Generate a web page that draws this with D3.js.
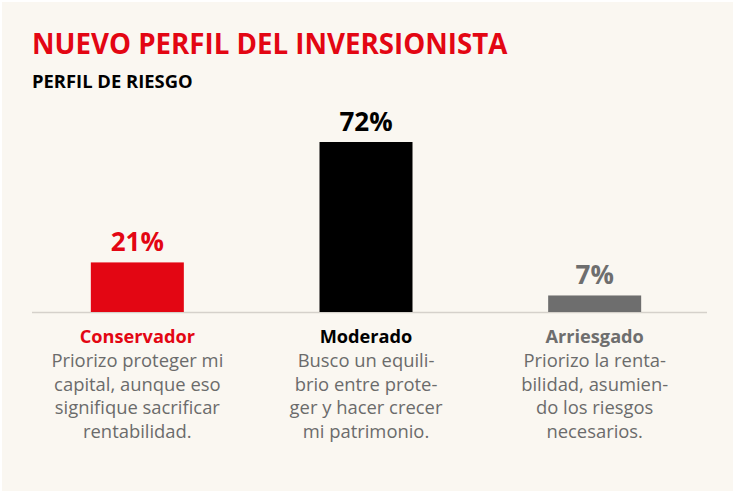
<!DOCTYPE html>
<html>
<head>
<meta charset="utf-8">
<script src="https://cdn.jsdelivr.net/npm/d3@7"></script>
<style>
  html, body { margin: 0; padding: 0; background: #ffffff; }
  svg { display: block; }
</style>
</head>
<body>
<div id="chart"></div>
<script>
// datos del grafico
var categories = ["Conservador", "Moderado", "Arriesgado"];
var values = [21, 72, 7];
var valueLabels = ["21%", "72%", "7%"];
var descriptions = [
  ["Priorizo proteger mi", "capital, aunque eso", "signifique sacrificar", "rentabilidad."],
  ["Busco un equili-", "brio entre prote-", "ger y hacer crecer", "mi patrimonio."],
  ["Priorizo la renta-", "bilidad, asumien-", "do los riesgos", "necesarios."]
];
var colors = ["#e30613", "#000000", "#6e6e6e"];

var width = 736, height = 494;
var font = "'Open Sans', sans-serif";
var baseY = 312;

var svg = d3.select("#chart").append("svg")
  .attr("width", width).attr("height", height);

svg.append("rect")
  .attr("x", 2).attr("y", 2)
  .attr("width", width - 5).attr("height", height - 5)
  .attr("fill", "#faf7f1");

svg.append("text")
  .attr("x", 32).attr("y", 54)
  .attr("font-family", font).attr("font-weight", 700)
  .attr("font-size", 27.7).attr("fill", "#e30613")
  .text("NUEVO PERFIL DEL INVERSIONISTA");

svg.append("text")
  .attr("x", 32).attr("y", 88)
  .attr("font-family", font).attr("font-weight", 700)
  .attr("font-size", 18.4).attr("fill", "#000")
  .text("PERFIL DE RIESGO");

var x = d3.scaleBand().domain(categories).range([23, 709]).padding(0);
var y = d3.scaleLinear().domain([0, 72]).range([baseY, 142]);
var barW = 93;

var g = svg.append("g");

// linea base
g.append("line")
  .attr("x1", 32).attr("x2", 707)
  .attr("y1", baseY + 0.5).attr("y2", baseY + 0.5)
  .attr("stroke", "#d5d1cb").attr("stroke-width", 1.5);

var cols = g.selectAll(".col").data(categories).enter().append("g")
  .attr("class", "col")
  .attr("transform", function(d) { return "translate(" + (x(d) + x.bandwidth() / 2) + ",0)"; });

cols.append("rect")
  .attr("x", -barW / 2)
  .attr("y", function(d, i) { return y(values[i]); })
  .attr("width", barW)
  .attr("height", function(d, i) { return baseY - y(values[i]); })
  .attr("fill", function(d, i) { return colors[i]; });

cols.append("text")
  .attr("y", function(d, i) { return y(values[i]) - 11; })
  .attr("text-anchor", "middle")
  .attr("font-family", font).attr("font-weight", 700)
  .attr("font-size", 26)
  .attr("fill", function(d, i) { return colors[i]; })
  .text(function(d, i) { return valueLabels[i]; });

cols.append("text")
  .attr("y", 342.5)
  .attr("text-anchor", "middle")
  .attr("font-family", font).attr("font-weight", 700)
  .attr("font-size", 18.2)
  .attr("fill", function(d, i) { return colors[i]; })
  .text(function(d) { return d; });

cols.each(function(d, i) {
  d3.select(this).selectAll(".desc").data(descriptions[i]).enter().append("text")
    .attr("class", "desc")
    .attr("y", function(t, j) { return 367 + j * 23.6; })
    .attr("text-anchor", "middle")
    .attr("font-family", font)
    .attr("font-size", 18.4)
    .attr("fill", "#6b6b6b")
    .text(function(t) { return t; });
});
</script>
</body>
</html>
